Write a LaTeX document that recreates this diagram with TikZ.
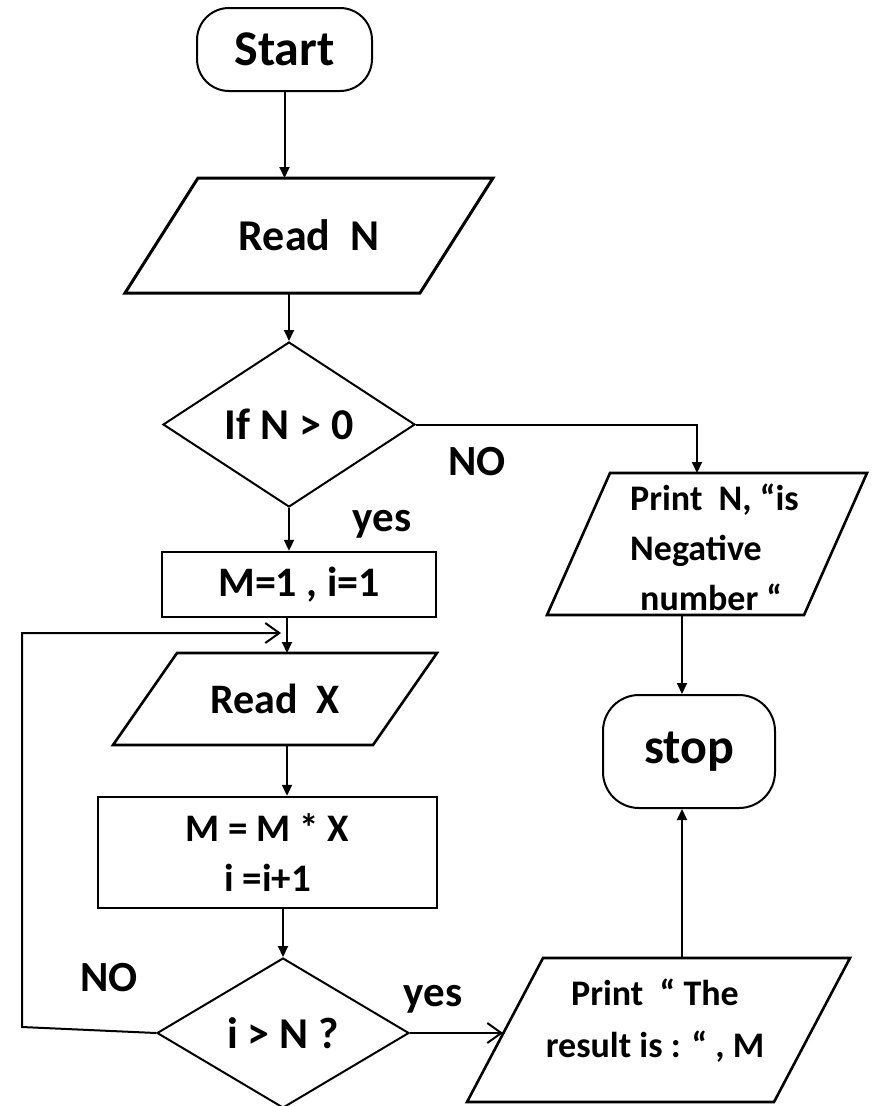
\documentclass[tikz,border=0pt]{standalone}
\usepackage{fontspec}
\setmainfont{Carlito}
\usetikzlibrary{shapes.geometric,arrows.meta,calc}

% slanted input/output frame drawn round an invisible box node
\newcommand\parabox[3][2.6pt]{%
  \draw[line width=#1, line join=miter]
    ($(#2.north west)+(#3,0)$) -- (#2.north east) --
    ($(#2.south east)-(#3,0)$) -- (#2.south west) -- cycle;}

\begin{document}
\begin{tikzpicture}[x=1pt,y=-1pt,
  box/.style={draw=none, inner sep=0pt, outer sep=0pt, align=center},
  term/.style={draw, line width=2pt, rounded corners=32pt, inner sep=0pt},
  procbox/.style={draw, line width=2.4pt, inner sep=0pt, align=center},
  decision/.style={draw, diamond, line width=2pt, aspect=1.6, inner sep=0pt},
  flow/.style={line width=2pt, -{Triangle[length=11pt,width=10pt]}},
  openflow/.style={line width=2pt, -{Straight Barb[length=14pt,width=20pt,line width=2pt]}},
  f50/.style={font=\fontsize{50}{60}\selectfont\bfseries},
  f44/.style={font=\fontsize{44}{52}\selectfont\bfseries},
  f42/.style={font=\fontsize{42}{50}\selectfont\bfseries},
  f39/.style={font=\fontsize{39}{50}\selectfont\bfseries},
  f36/.style={font=\fontsize{36}{50}\selectfont\bfseries},
  lbl/.style={font=\fontsize{43}{50}\selectfont\bfseries, inner sep=0pt},
]
\useasboundingbox (0,0) rectangle (871,1106);

% ---- shapes ----
\node[term, f50, minimum width=175pt, minimum height=83pt] (start) at (284.5,49.5) {Start};

\node[box, f44, minimum width=368pt, minimum height=115pt] (readN) at (309,235.5) {Read\ \ N};
\parabox[3pt]{readN}{73}

\node[decision, f44, minimum width=252pt, minimum height=165pt] (ifN) at (289,424.5) {If N > 0};

\node[procbox, f42, minimum width=274pt, minimum height=65pt] (init) at (299,584.5) {M=1 , i=1};

\node[box, minimum width=320pt, minimum height=142pt] (printN) at (707,544) {};
\parabox{printN}{63}
\node[f36, anchor=west, align=left, inner sep=0pt] (printNtext) at (630,547)
  {Print\ \ N, “is\\Negative\\\hspace*{10pt}number “};

\node[box, f42, minimum width=324pt, minimum height=92pt] (readX) at (275,699) {Read\ \ X};
\parabox{readX}{64}

\node[procbox, f39, minimum width=339pt, minimum height=111pt] (update) at (267.5,852.5) {M = M * X\\i =i+1};

\node[decision, f44, minimum width=252pt, minimum height=150pt] (test) at (283,1033) {i > N ?};

\node[box, minimum width=383pt, minimum height=144pt] (printR) at (658.5,1030) {};
\parabox{printR}{76}
\node[font=\fontsize{36}{52}\selectfont\bfseries, align=center, inner sep=0pt] (printRtext) at (655,1021)
  {Print\ \ “ The\\result is : “ , M};

\node[term, f50, rounded corners=36pt, minimum width=172pt, minimum height=113pt] (stop) at (689,751.5) {stop};

% ---- helper coordinates ----
\coordinate (lcol) at (287,0);
\coordinate (rcol) at (682,0);
\coordinate (noturn) at (697,0);
\coordinate (loopin) at (281,633);
\coordinate (loopcorner) at (22,1027);
\coordinate (printRin) at (503,1033);

% ---- connectors ----
\draw[flow] (start.south) -- (start.south |- readN.north);
\draw[flow] (ifN.north |- readN.south) -- (ifN.north);
\draw[flow] (ifN.east) -| (printN.north -| noturn);
\draw[flow] (ifN.south) -- (ifN.south |- init.north);
\draw[flow] (init.south -| lcol) -- (readX.north -| lcol);
\draw[flow] (readX.south -| lcol) -- (update.north -| lcol);
\draw[flow] (update.south -| test.north) -- (test.north);
\draw[openflow] (test.west) -- (loopcorner) |- (loopin);
\draw[openflow] (test.east) -- (printRin);
\draw[flow] (printR.north -| rcol) -- (stop.south -| rcol);
\draw[flow] (printN.south -| rcol) -- (stop.north -| rcol);

% ---- branch labels ----
\node[lbl] (no1) at (477,462) {NO};
\node[lbl] (yes1) at (382,524) {yes};
\node[lbl] (no2) at (109,978) {NO};
\node[lbl] (yes2) at (433,999) {yes};
\end{tikzpicture}
\end{document}
